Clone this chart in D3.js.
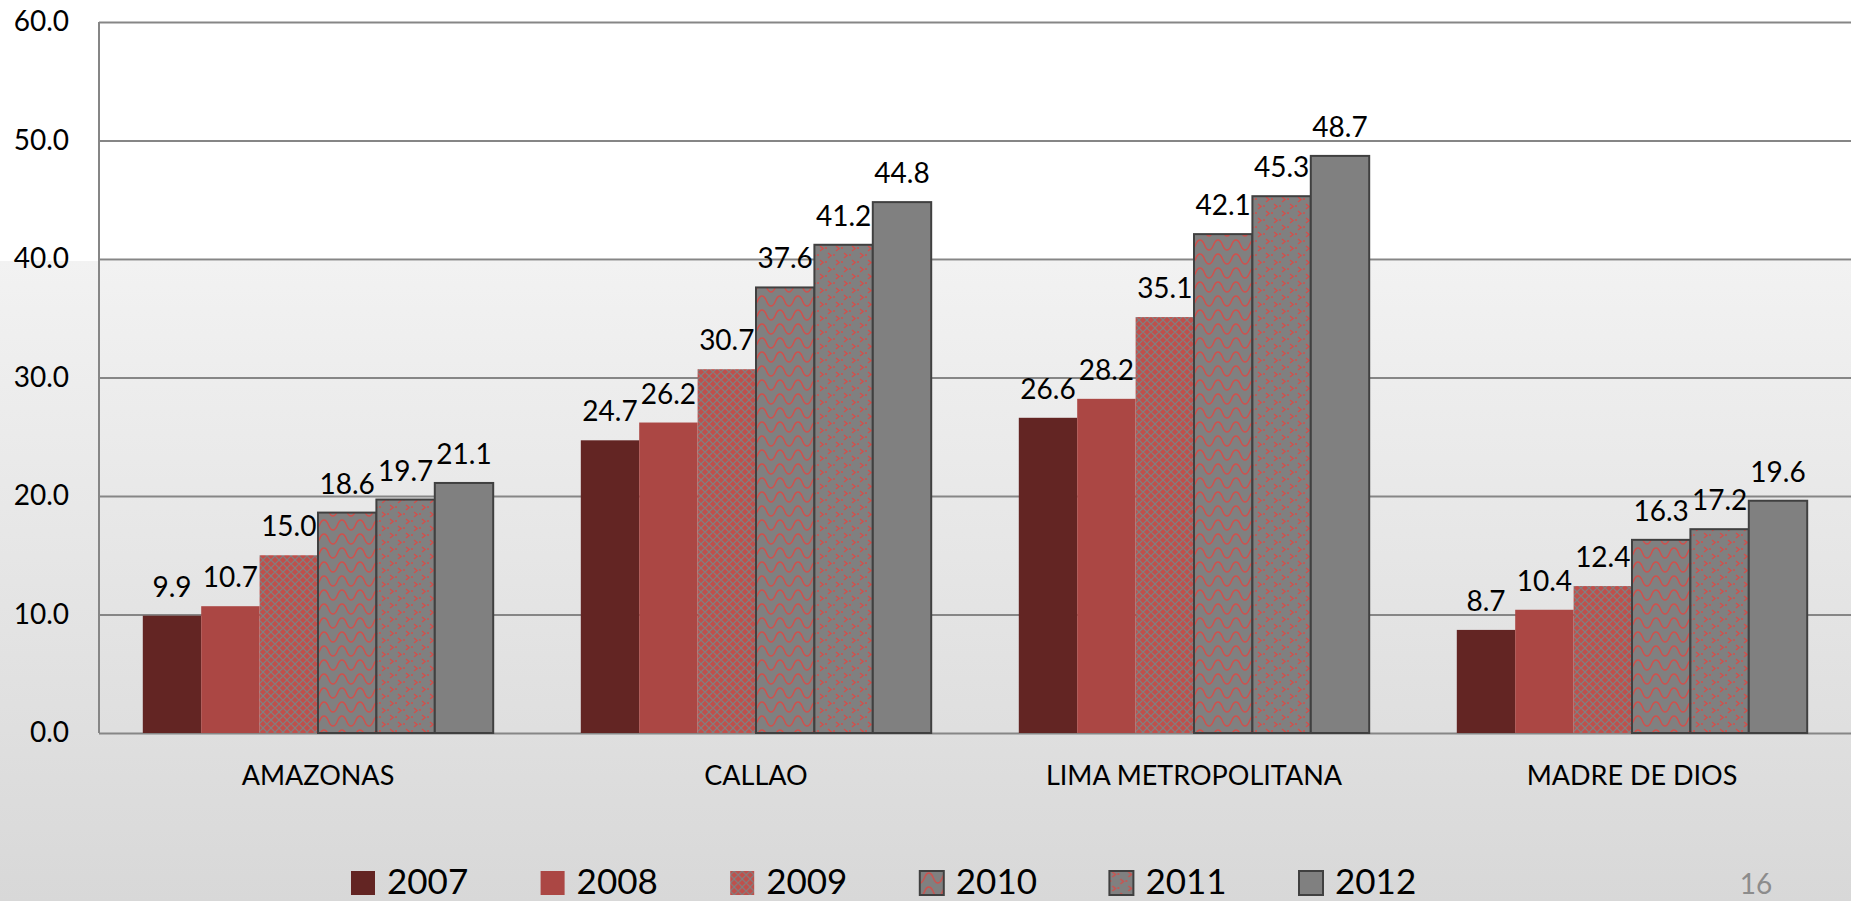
<!DOCTYPE html>
<html>
<head>
<meta charset="utf-8">
<script src="https://cdn.jsdelivr.net/npm/d3@7"></script>
<style>
  html, body { margin: 0; padding: 0; overflow: hidden; }
  svg { display: block; font-family: Lato, 'Noto Sans', sans-serif; }
</style>
</head>
<body>
<div id="app"></div>
<script>
// Data
const categories = ['AMAZONAS', 'CALLAO', 'LIMA METROPOLITANA', 'MADRE DE DIOS'];
const years = ['2007', '2008', '2009', '2010', '2011', '2012'];
const values2007 = [9.9, 24.7, 26.6, 8.7];
const values2008 = [10.7, 26.2, 28.2, 10.4];
const values2009 = [15.0, 30.7, 35.1, 12.4];
const values2010 = [18.6, 37.6, 42.1, 16.3];
const values2011 = [19.7, 41.2, 45.3, 17.2];
const values2012 = [21.1, 44.8, 48.7, 19.6];
const yTicks = [0, 10, 20, 30, 40, 50, 60];
const pageNumber = '16';

const series = [values2007, values2008, values2009, values2010, values2011, values2012];

const width = 1851, height = 901;
const margin = { left: 99, right: 0, top: 22, bottom: 168 };

const svg = d3.select('#app').append('svg')
    .attr('width', width)
    .attr('height', height);

const defs = svg.append('defs');

// slide background: white top, grey gradient below
const grad = defs.append('linearGradient')
    .attr('id', 'bg').attr('x1', 0).attr('y1', 0).attr('x2', 0).attr('y2', 1);
grad.append('stop').attr('offset', '0%').attr('stop-color', '#f2f2f2');
grad.append('stop').attr('offset', '100%').attr('stop-color', '#d8d8d8');

svg.append('rect').attr('width', width).attr('height', height).attr('fill', '#ffffff');
svg.append('rect').attr('y', 261).attr('width', width).attr('height', height - 261).attr('fill', 'url(#bg)');

// fill patterns
const grey = '#808080', red = '#d0504c';

const p2009 = defs.append('pattern').attr('id', 'p2009')
    .attr('patternUnits', 'userSpaceOnUse').attr('width', 8).attr('height', 8);
p2009.append('rect').attr('width', 8).attr('height', 8).attr('fill', '#c04f4b');
p2009.append('path').attr('d', 'M0,4 L4,0 L8,4 L4,8 Z')
    .attr('fill', 'none').attr('stroke', grey).attr('stroke-width', 1.2);

const p2010 = defs.append('pattern').attr('id', 'p2010')
    .attr('patternUnits', 'userSpaceOnUse').attr('width', 18).attr('height', 14);
p2010.append('rect').attr('width', 18).attr('height', 14).attr('fill', grey);
p2010.append('path').attr('d', 'M0,12 C5,12 4,2 9,2 C14,2 13,12 18,12')
    .attr('fill', 'none').attr('stroke', red).attr('stroke-width', 1.5);

const p2011 = defs.append('pattern').attr('id', 'p2011')
    .attr('patternUnits', 'userSpaceOnUse').attr('width', 16).attr('height', 14);
p2011.append('rect').attr('width', 16).attr('height', 14).attr('fill', grey);
p2011.append('path').attr('d', 'M3,1 L6,3.5 L3,6 M11,8 L14,10.5 L11,13 M1,9 L1,11 M9,2 L9,4')
    .attr('fill', 'none').attr('stroke', red).attr('stroke-width', 1.5);

const fills = ['#632523', '#ab4744', 'url(#p2009)', 'url(#p2010)', 'url(#p2011)', grey];
const strokes = ['none', 'none', 'none', '#404040', '#404040', '#404040'];

// Scales
const x0 = d3.scaleBand()
    .domain(categories)
    .range([margin.left, width - margin.right]);

const x1 = d3.scaleBand()
    .domain(years)
    .range([x0.bandwidth() * 0.1, x0.bandwidth() * 0.9]);

const y = d3.scaleLinear()
    .domain([0, 60])
    .range([height - margin.bottom, margin.top]);

// Grid + y axis
const yAxis = svg.append('g')
    .attr('transform', `translate(${margin.left},0)`)
    .call(d3.axisLeft(y)
        .tickValues(yTicks)
        .tickFormat(d3.format('.1f'))
        .tickSize(-(width - margin.left - margin.right))
        .tickPadding(30));
yAxis.select('.domain').remove();
yAxis.selectAll('.tick line')
    .attr('stroke', '#868686')
    .attr('stroke-width', 2);
yAxis.selectAll('.tick text')
    .attr('fill', '#000')
    .style('font-size', '28px')
    .style('font-family', 'Lato, sans-serif');

svg.append('line')
    .attr('x1', margin.left).attr('x2', margin.left)
    .attr('y1', y(60)).attr('y2', y(0))
    .attr('stroke', '#868686').attr('stroke-width', 2);

// Bars
const groups = svg.append('g').selectAll('g')
    .data(categories)
    .join('g')
    .attr('transform', d => `translate(${x0(d)},0)`);

groups.selectAll('rect')
    .data((c, ci) => years.map((yr, si) => ({ yr, si, v: series[si][ci] })))
    .join('rect')
    .attr('x', d => x1(d.yr))
    .attr('y', d => y(d.v))
    .attr('width', x1.bandwidth())
    .attr('height', d => y(0) - y(d.v))
    .attr('fill', d => fills[d.si])
    .attr('stroke', d => strokes[d.si])
    .attr('stroke-width', 2);

// data labels
groups.selectAll('text')
    .data((c, ci) => years.map((yr, si) => ({ yr, si, v: series[si][ci] })))
    .join('text')
    .attr('x', d => x1(d.yr) + x1.bandwidth() / 2)
    .attr('y', d => y(d.v) - 19)
    .attr('text-anchor', 'middle')
    .style('font-size', '28px')
    .text(d => d.v.toFixed(1));

// category labels
svg.append('g').selectAll('text')
    .data(categories)
    .join('text')
    .attr('x', d => x0(d) + x0.bandwidth() / 2)
    .attr('y', 776)
    .attr('dy', '0.35em')
    .attr('text-anchor', 'middle')
    .style('font-size', '27px')
    .text(d => d);

// Legend
const legendX = d3.scalePoint().domain(years).range([351, 1299]);
const legend = svg.append('g').selectAll('g')
    .data(years)
    .join('g')
    .attr('transform', d => `translate(${legendX(d)},871)`);

legend.append('rect')
    .attr('width', 24).attr('height', 24)
    .attr('fill', (d, i) => fills[i])
    .attr('stroke', (d, i) => strokes[i])
    .attr('stroke-width', 2);

legend.append('text')
    .attr('x', 36)
    .attr('y', 23)
    .style('font-size', '35px')
    .text(d => d);

// page number
svg.append('text')
    .attr('x', 1756)
    .attr('y', 894)
    .attr('text-anchor', 'middle')
    .attr('fill', '#8c8c8c')
    .style('font-size', '28px')
    .text(pageNumber);
</script>
</body>
</html>
